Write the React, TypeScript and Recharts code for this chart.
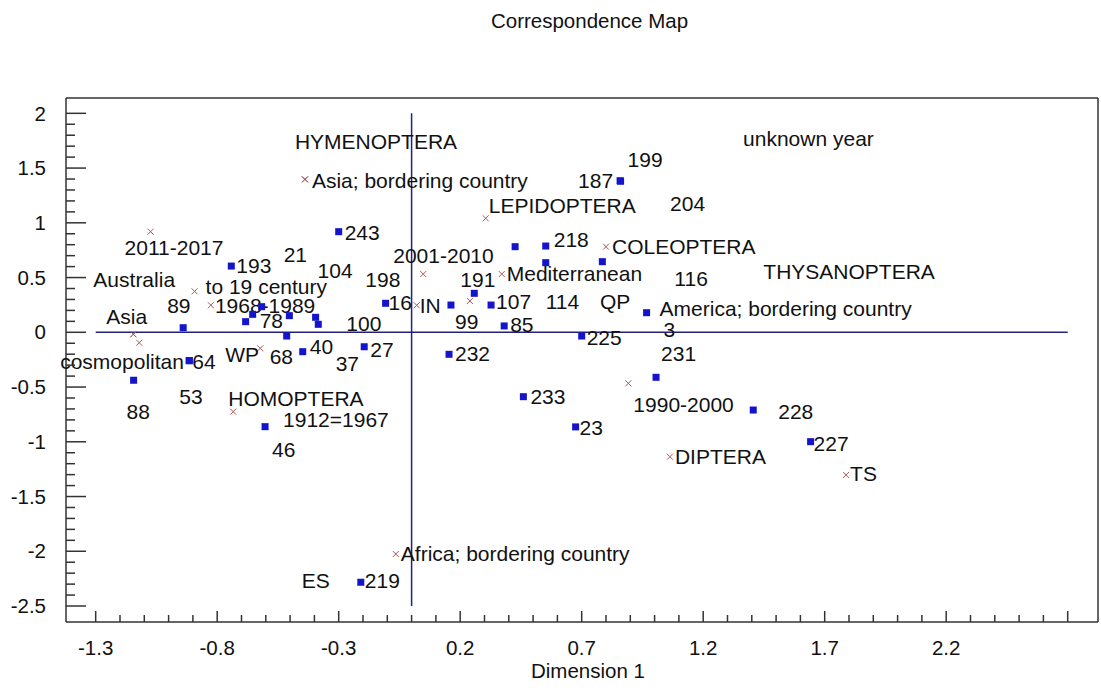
import { ScatterChart, Scatter, XAxis, YAxis, ReferenceLine } from 'recharts';

// row points (blue squares)
const rowLabels = ['187', '199', '243', '193', '16', '89', '78', '37', '21', '198', '104', '100', '68', '40', '27', '64', '53', '88', '46', '204', '218', '114', '116', '99', '191', '107', '85', '225', '232', '3', '231', '228', '23', '227', '233', '219'];
const rowDim1 = [0.858, 0.86, -0.3, -0.742, -0.107, -0.94, -0.654, -0.683, -0.617, -0.503, -0.395, -0.384, -0.514, -0.448, -0.195, -0.915, -0.915, -1.144, -0.603, 0.426, 0.552, 0.552, 0.785, 0.162, 0.258, 0.327, 0.381, 0.7, 0.154, 0.967, 1.006, 1.406, 0.675, 1.642, 0.46, -0.209];
const rowDim2 = [1.384, 1.38, 0.919, 0.605, 0.265, 0.042, 0.164, 0.097, 0.234, 0.152, 0.137, 0.073, -0.034, -0.177, -0.132, -0.259, -0.259, -0.438, -0.862, 0.782, 0.788, 0.636, 0.645, 0.249, 0.356, 0.249, 0.058, -0.034, -0.201, 0.179, -0.411, -0.71, -0.864, -0.999, -0.588, -2.283];

// column points (red crosses)
const colLabels = ['2011-2017', 'Australia', 'to 19 century', '1968-1989', 'Asia', 'cosmopolitan', 'WP', 'HOMOPTERA', '1912=1967', 'Asia; bordering country', 'HYMENOPTERA', 'LEPIDOPTERA', '2001-2010', 'IN', 'QP', 'Mediterranean', 'COLEOPTERA', '1990-2000', 'DIPTERA', 'TS', 'Africa; bordering country', 'unknown year', 'THYSANOPTERA', 'America; bordering country', 'ES'];
const colDim1 = [-1.074, -1.145, -0.893, -0.826, -1.145, -1.121, -0.623, -0.734, -0.603, -0.439, -0.439, 0.305, 0.048, 0.021, 0.24, 0.371, 0.8, 0.892, 1.063, 1.788, -0.065, 0.858, 0.785, 0.967, -0.209];
const colDim2 = [0.919, -0.018, 0.374, 0.247, -0.018, -0.095, -0.146, -0.725, -0.862, 1.397, 1.397, 1.041, 0.532, 0.247, 0.286, 0.532, 0.782, -0.466, -1.136, -1.303, -2.025, 1.384, 0.645, 0.179, -2.283];

const xTickLabels = [-1.3, -0.8, -0.3, 0.2, 0.7, 1.2, 1.7, 2.2];
const xMajorTicks = [-1.3, -0.8, -0.3, 0.2, 0.7, 1.2, 1.7, 2.2, 2.7];
const yTickLabels = [2, 1.5, 1, 0.5, 0, -0.5, -1, -1.5, -2, -2.5];

// label offsets in px from the marker (text start, text middle)
const rowLabelAt: Record<string, [number, number]> = {
  '187': [-42, 0], '199': [7, -22], '243': [6, 1], '193': [5, 0], '16': [3, -1], '89': [-16, -22],
  '78': [7, 6], '37': [90, 42], '21': [22, -52], '198': [76, -36], '104': [2, -47], '100': [28, -1],
  '68': [-17, 21], '40': [7, -5], '27': [6, 3], '64': [3, 1], '53': [-10, 36], '88': [-7, 31],
  '46': [7, 23], '204': [155, -43], '218': [8, -6], '114': [0, 39], '116': [72, 17], '99': [4, 17],
  '191': [-14, -14], '107': [5, -3], '85': [6, -1], '225': [5, 2], '232': [6, -1], '3': [17, 17],
  '231': [5, -24], '228': [25, 2], '23': [4, 1], '227': [3, 2], '233': [7, 0], '219': [4, -2],
};
const colLabelAt: Record<string, [number, number]> = {
  '2011-2017': [-26, 16], 'Australia': [-40, -55], 'to 19 century': [11, -5], '1968-1989': [4, 0],
  'Asia': [-27, -18], 'cosmopolitan': [-79, 19], 'WP': [-35, 6], 'HOMOPTERA': [-5, -13],
  '1912=1967': [18, -7], 'Asia; bordering country': [7, 1], 'HYMENOPTERA': [-10, -38],
  'LEPIDOPTERA': [3, -13], '2001-2010': [-30, -18], 'IN': [3, 0], 'QP': [130, 1],
  'Mediterranean': [5, 0], 'COLEOPTERA': [6, 0], '1990-2000': [5, 21], 'DIPTERA': [5, 0],
  'TS': [4, -1], 'Africa; bordering country': [5, 0], 'unknown year': [123, -42],
  'THYSANOPTERA': [161, 10], 'America; bordering country': [13, -4], 'ES': [-59, -2],
};

const rows = rowLabels.map((name, i) => ({ name, x: rowDim1[i], y: rowDim2[i] }));
const cols = colLabels.map((name, i) => ({ name, x: colDim1[i], y: colDim2[i] }));

const xAll: number[] = [];
for (let k = -13; k <= 27; k++) xAll.push(k / 10);
const yAll: number[] = [];
for (let k = -25; k <= 20; k++) yAll.push(k / 10);

const FONT = '"Liberation Sans", Arial, sans-serif';
const AXIS = '#333';
const ZERO = '#22227a';
const X_DOMAIN = [-1.4222, 2.8247];
const Y_DOMAIN = [-2.646, 2.14];

const has = (list: number[], v: number) => list.some((m) => Math.abs(m - v) < 1e-6);

const BottomTick = (props: any) => {
  const { x, y, payload } = props;
  const v = payload.value;
  const major = has(xMajorTicks, v);
  return (
    <g>
      <line x1={x} y1={y} x2={x} y2={y - (major ? 11 : 7)} stroke={AXIS} strokeWidth={1.5} />
      {has(xTickLabels, v) && (
        <text x={x} y={y + 33} textAnchor="middle" fontSize={20.5} fontFamily={FONT} fill="#111">
          {String(v)}
        </text>
      )}
    </g>
  );
};

const TopTick = (props: any) => {
  const { x, y, payload } = props;
  const major = has(xMajorTicks, payload.value);
  return <line x1={x} y1={y} x2={x} y2={y + (major ? 11 : 7)} stroke={AXIS} strokeWidth={1.5} />;
};

const LeftTick = (props: any) => {
  const { x, y, payload } = props;
  const v = payload.value;
  const major = has(yTickLabels, v);
  return (
    <g>
      <line x1={x} y1={y} x2={x + (major ? 20 : 9)} y2={y} stroke={AXIS} strokeWidth={1.5} />
      {major && (
        <text x={x - 20} y={y} dy="0.35em" textAnchor="end" fontSize={20.5} fontFamily={FONT} fill="#111">
          {String(v)}
        </text>
      )}
    </g>
  );
};

const RightTick = (props: any) => {
  const { x, y, payload } = props;
  const major = has(yTickLabels, payload.value);
  return <line x1={x} y1={y} x2={x - (major ? 19 : 10)} y2={y} stroke={AXIS} strokeWidth={1.5} />;
};

const RowMark = (props: any) => {
  const { cx, cy, payload } = props;
  const [dx, dy] = rowLabelAt[payload.name] ?? [5, 0];
  return (
    <g>
      <rect x={cx - 3.5} y={cy - 3.5} width={7} height={7} fill="#1414cc" />
      <text x={cx + dx} y={cy + dy} dy="0.35em" fontSize={21} fontFamily={FONT} fill="#111">
        {payload.name}
      </text>
    </g>
  );
};

const ColMark = (props: any) => {
  const { cx, cy, payload } = props;
  const [dx, dy] = colLabelAt[payload.name] ?? [5, 0];
  const s = 3;
  return (
    <g>
      <line x1={cx - s} y1={cy - s} x2={cx + s} y2={cy + s} stroke="#b25555" strokeWidth={1} />
      <line x1={cx - s} y1={cy + s} x2={cx + s} y2={cy - s} stroke="#b25555" strokeWidth={1} />
      <text x={cx + dx} y={cy + dy} dy="0.35em" fontSize={21} fontFamily={FONT} fill="#111">
        {payload.name}
      </text>
    </g>
  );
};

export default function App() {
  return (
    <div style={{ position: 'absolute', left: 0, top: 0, width: 1101, height: 691, background: '#fff' }}>
      <ScatterChart width={1101} height={691} margin={{ top: 97, right: 2, bottom: 68, left: 65 }}>
        <XAxis
          type="number"
          dataKey="x"
          domain={X_DOMAIN}
          ticks={xAll}
          interval={0}
          height={1}
          tickSize={0}
          tickMargin={0}
          tickLine={false}
          axisLine={{ stroke: AXIS, strokeWidth: 1.5 }}
          tick={<BottomTick />}
        />
        <XAxis
          xAxisId="top"
          orientation="top"
          type="number"
          domain={X_DOMAIN}
          ticks={xAll}
          interval={0}
          height={1}
          tickSize={0}
          tickMargin={0}
          tickLine={false}
          axisLine={{ stroke: AXIS, strokeWidth: 1.5 }}
          tick={<TopTick />}
        />
        <YAxis
          type="number"
          dataKey="y"
          domain={Y_DOMAIN}
          ticks={yAll}
          interval={0}
          width={1}
          tickSize={0}
          tickMargin={0}
          tickLine={false}
          axisLine={{ stroke: AXIS, strokeWidth: 1.5 }}
          tick={<LeftTick />}
        />
        <YAxis
          yAxisId="right"
          orientation="right"
          type="number"
          domain={Y_DOMAIN}
          ticks={yAll}
          interval={0}
          width={1}
          tickSize={0}
          tickMargin={0}
          tickLine={false}
          axisLine={{ stroke: AXIS, strokeWidth: 1.5 }}
          tick={<RightTick />}
        />
        <ReferenceLine segment={[{ x: -1.3, y: 0 }, { x: 2.7, y: 0 }]} stroke={ZERO} strokeWidth={1.5} />
        <ReferenceLine segment={[{ x: 0, y: 2 }, { x: 0, y: -2.5 }]} stroke={ZERO} strokeWidth={1.5} />
        <Scatter data={cols} shape={<ColMark />} isAnimationActive={false} />
        <Scatter data={rows} shape={<RowMark />} isAnimationActive={false} />
      </ScatterChart>
      <svg width={1101} height={691} style={{ position: 'absolute', left: 0, top: 0, pointerEvents: 'none' }}>
        <text x={589.5} y={28} textAnchor="middle" fontSize={20.5} fontFamily={FONT} fill="#111">
          Correspondence Map
        </text>
        <text x={588} y={678} textAnchor="middle" fontSize={20.5} fontFamily={FONT} fill="#111">
          Dimension 1
        </text>
      </svg>
    </div>
  );
}
